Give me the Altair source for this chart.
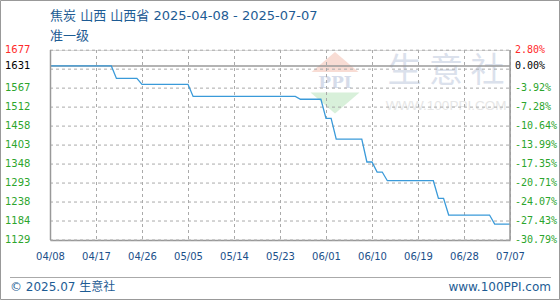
import altair as alt
import pandas as pd

# Daily coke price (Shanxi, grade 1 metallurgical), change points only
dates = ["2025-04-08", "2025-04-20", "2025-04-21", "2025-04-25", "2025-04-26",
         "2025-05-05", "2025-05-06", "2025-05-26", "2025-05-27", "2025-05-31",
         "2025-06-01", "2025-06-02", "2025-06-03", "2025-06-08", "2025-06-09",
         "2025-06-10", "2025-06-11", "2025-06-12", "2025-06-13", "2025-06-22",
         "2025-06-23", "2025-06-24", "2025-06-25", "2025-07-03", "2025-07-04",
         "2025-07-07"]
prices = [1631, 1631, 1595, 1595, 1578,
          1578, 1543, 1543, 1535, 1535,
          1480, 1480, 1420, 1420, 1354,
          1354, 1325, 1325, 1300, 1300,
          1249, 1249, 1201, 1201, 1175,
          1175]

base_price = 1631
x_ticks = ["2025-04-08", "2025-04-17", "2025-04-26", "2025-05-05", "2025-05-14",
           "2025-05-23", "2025-06-01", "2025-06-10", "2025-06-19", "2025-06-28",
           "2025-07-07"]
y_ticks = [1677, 1631, 1567, 1512, 1458, 1403, 1348, 1293, 1238, 1184, 1129]
pct_labels = ["2.80%", "0.00%", "-3.92%", "-7.28%", "-10.64%", "-13.99%",
              "-17.35%", "-20.71%", "-24.07%", "-27.43%", "-30.79%"]
y_grid = [1129, 1183.75, 1238.5, 1293.25, 1348, 1402.75, 1457.5, 1512.25,
          1567, 1621.75, 1676.5]

title_lines = ["焦炭 山西 山西省 2025-04-08 - 2025-07-07", "准一级"]

df = pd.DataFrame({"date": dates, "price": prices})
hgrid_df = pd.DataFrame({"g": y_grid})
vgrid_df = pd.DataFrame({"d": x_ticks})
ref_df = pd.DataFrame({"p": [base_price]})
tick_df = pd.DataFrame({"v": y_ticks, "lbl": pct_labels})
one = pd.DataFrame({"k": [0]})

W, H = 460, 190
BLUE_TEXT = "#1e5c94"
GRID = "#aaaaaa"
FRAME = "#999999"
UP, FLAT, DOWN = "#ff2a2a", "#000000", "#2ca52c"


def dt(s):
    t = pd.Timestamp(s)
    return alt.DateTime(year=t.year, month=t.month, date=t.day, utc=True)


x_scale = alt.Scale(type="utc", domain=[dt(x_ticks[0]), dt(x_ticks[-1])])
y_scale = alt.Scale(domain=[y_ticks[-1], y_ticks[0]], nice=False, zero=False)

x_axis = alt.Axis(
    values=[dt(s) for s in x_ticks], format="%m/%d", grid=False,
    ticks=False, tickSize=0, domain=True, domainColor=FRAME, domainWidth=1.5,
    labelPadding=11, labelFont="DejaVu Sans", labelFontSize=10,
    labelColor="#1a4f8a", labelFlush=False, labelOverlap=False, title=None)

color_expr = (f"datum.v >= {y_ticks[0] - 1} ? '{UP}' : "
              f"(datum.v == {base_price} ? '{FLAT}' : '{DOWN}')")

# faint logo watermark
up_tri = "M -1 0.43 L 1 0.43 L 0 -0.43 Z"
down_tri = "M -1 -0.43 L 1 -0.43 L 0 0.43 Z"
wm = alt.Chart(one)
wm_red = wm.mark_point(shape=up_tri, size=2200, filled=True, color="#f8dcd4",
                       opacity=1).encode(x=alt.value(285), y=alt.value(12))
wm_green = wm.mark_point(shape=down_tri, size=2400, filled=True, color="#d8f0da",
                         opacity=1).encode(x=alt.value(285), y=alt.value(53))
wm_ppi = wm.mark_text(text="PPI", font="DejaVu Serif", fontSize=17, fontWeight="bold",
                      color="#d6dcea").encode(x=alt.value(285), y=alt.value(33))
wm_name = wm.mark_text(text="生  意  社", font="Noto Sans CJK SC", fontSize=34,
                       color="#dbe1ec").encode(x=alt.value(396), y=alt.value(22))
wm_url = wm.mark_text(text="WWW.100PPI.COM", font="Liberation Sans", fontSize=13.5,
                      color="#e6e6e6").encode(x=alt.value(396), y=alt.value(56))

# dashed guides: horizontal at the value grid, vertical at each date tick
hgrid = alt.Chart(hgrid_df).mark_rule(color=GRID, strokeDash=[3, 3], strokeWidth=1,
                                      opacity=1).encode(
    y=alt.Y("g:Q", scale=y_scale, axis=None),
    x=alt.value(0), x2=alt.value(W),
)
vgrid = alt.Chart(vgrid_df).mark_rule(color=GRID, strokeDash=[3, 3], strokeWidth=1,
                                      opacity=1, xOffset=0.5).encode(
    x=alt.X("d:T", scale=x_scale, axis=x_axis),
    y=alt.value(0), y2=alt.value(H),
)

ref = alt.Chart(ref_df).mark_rule(color="#9a9a9a", strokeWidth=1.5).encode(
    y=alt.Y("p:Q", scale=y_scale, axis=None),
    x=alt.value(0), x2=alt.value(W),
)

line = alt.Chart(df).mark_line(color="#3a9ad9", strokeWidth=1.3).encode(
    x=alt.X("date:T", scale=x_scale, axis=x_axis),
    y=alt.Y("price:Q", scale=y_scale, axis=None),
)

# price labels on the left, change against the base price on the right
price_lbl = alt.Chart(tick_df).transform_calculate(c=color_expr).mark_text(
    align="left", baseline="middle", font="DejaVu Sans", fontSize=10
).encode(
    x=alt.value(-45),
    y=alt.Y("v:Q", scale=y_scale, axis=None),
    text=alt.Text("v:Q", format="d"),
    color=alt.Color("c:N", scale=None, legend=None),
)
pct_lbl = alt.Chart(tick_df).transform_calculate(c=color_expr).mark_text(
    align="left", baseline="middle", font="DejaVu Sans Mono", fontSize=10
).encode(
    x=alt.value(W + 5),
    y=alt.Y("v:Q", scale=y_scale, axis=None),
    text="lbl:N",
    color=alt.Color("c:N", scale=None, legend=None),
)

# plot edges, heading, footer and outer frame
foot = alt.Chart(one)
left_edge = foot.mark_rule(color=FRAME, strokeWidth=1.5).encode(
    x=alt.value(0.5), y=alt.value(0), y2=alt.value(H))
right_edge = foot.mark_rule(color=FRAME, strokeWidth=1.5).encode(
    x=alt.value(W), y=alt.value(0), y2=alt.value(H))
head_font = "DejaVu Sans, Noto Sans CJK SC"
head1 = foot.mark_text(text=title_lines[0], align="left", baseline="middle",
                       font=head_font, fontSize=13, color=BLUE_TEXT).encode(
    x=alt.value(0), y=alt.value(-34.5))
head2 = foot.mark_text(text=title_lines[1], align="left", baseline="middle",
                       font=head_font, fontSize=13, color=BLUE_TEXT).encode(
    x=alt.value(0), y=alt.value(-14))
frame = foot.mark_rect(fill="transparent", stroke=FRAME, strokeWidth=1).encode(
    x=alt.value(-49.5), x2=alt.value(509.5), y=alt.value(-49.5), y2=alt.value(249.5))
sep = foot.mark_rule(color="#aaaaaa", strokeWidth=1).encode(
    x=alt.value(-40), x2=alt.value(501), y=alt.value(227.5))
copy_txt = foot.mark_text(text="© 2025.07 生意社", align="left", baseline="middle",
                          font="DejaVu Sans, Noto Sans CJK SC", fontSize=12,
                          color=BLUE_TEXT).encode(x=alt.value(-40), y=alt.value(237))
url_txt = foot.mark_text(text="www.100PPI.com", align="right", baseline="middle",
                         font="DejaVu Sans", fontSize=12,
                         color=BLUE_TEXT).encode(x=alt.value(501), y=alt.value(237))

chart = alt.layer(
    wm_red, wm_green, wm_ppi, wm_name, wm_url, hgrid, vgrid, ref, line,
    price_lbl, pct_lbl, left_edge, right_edge, head1, head2, frame, sep,
    copy_txt, url_txt,
).properties(
    width=W, height=H,
    autosize=alt.AutoSizeParams(type="none"),
    padding={"left": 50, "top": 50, "right": 50, "bottom": 60},
).configure_view(stroke=None).configure(background="white")

chart.save("out.html", embed_options={"renderer": "svg", "actions": False})
